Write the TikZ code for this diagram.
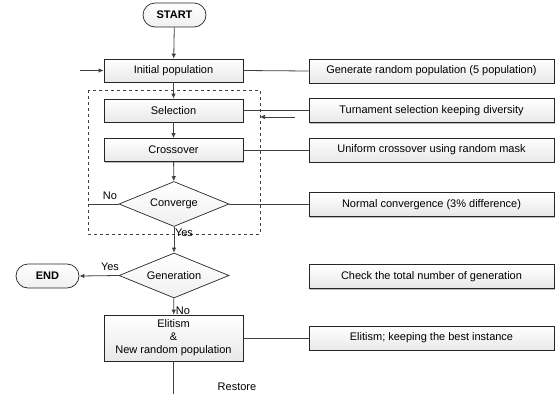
\documentclass[tikz,border=0pt]{standalone}
\usepackage{fontspec}
\setmainfont{Liberation Sans}
\usetikzlibrary{shapes.geometric,shapes.misc,shadows,arrows.meta}
\begin{document}
\begin{tikzpicture}[x=1pt,y=-1pt,
  font=\fontsize{11}{13}\selectfont,
  conn/.style={draw=black!75, line width=0.8pt},
  arr/.style={conn, -{Latex[length=5pt,width=4.5pt]}},
  procbox/.style={draw=black!85, line width=0.7pt, rectangle, minimum width=139pt, minimum height=23pt, inner sep=1pt,
    top color=white, bottom color=gray!18,
    drop shadow={shadow xshift=1.2pt, shadow yshift=-1.2pt, fill=gray!55, opacity=1}},
  notebox/.style={procbox, minimum width=245pt, minimum height=24pt},
  termbox/.style={draw=black!85, line width=0.7pt, rounded rectangle, minimum width=65pt, minimum height=24pt, inner sep=1pt,
    top color=white, bottom color=gray!12, font=\fontsize{11}{13}\selectfont\bfseries},
  decbox/.style={draw=black!85, line width=0.7pt, diamond, aspect=2.4, minimum width=110pt, minimum height=45pt, inner sep=0pt,
    top color=white, bottom color=gray!12},
  lbl/.style={inner sep=0pt}
]
\useasboundingbox (0,0) rectangle (560,394);

% main flow
\node[termbox] (start) at (174.5,15) {START};
\node[procbox] (init) at (173.5,70.5) {Initial population};
\node[procbox] (sel) at (173.5,110.5) {Selection};
\node[procbox] (cross) at (173.5,150) {Crossover};
\node[decbox] (conv) at (174,204) {Converge};
\node[decbox] (gen) at (174,275.5) {Generation};
\node[termbox] (end) at (47.5,276) {END};
\node[procbox, minimum height=46pt, align=center, font=\fontsize{11}{13}\selectfont] (eli) at (173.5,338) {Elitism\\\&\\New random population};

% dashed group
\draw[black!75, dashed, line width=0.7pt] (88,90) rectangle (260,234);

% right notes
\node[notebox] (gr) at (431.5,71) {Generate random population (5 population)};
\node[notebox] (tur) at (431.5,110.5) {Turnament selection keeping diversity};
\node[notebox] (uni) at (431.5,150) {Uniform crossover using random mask};
\node[notebox] (norm) at (431.5,204.5) {Normal convergence (3\% difference)};
\node[notebox] (chk) at (431.5,276.5) {Check the total number of generation};
\node[notebox] (elk) at (431.5,338) {Elitism; keeping the best instance};

% coordinates for free ends
\coordinate (inL) at (80,70.5);
\coordinate (noL) at (88,204);
\coordinate (ret1) at (295,117);
\coordinate (ret2) at (260,117);
\coordinate (bot) at (173.5,394);

% connectors
\draw[arr] (start) -- (init);
\draw[arr] (inL) -- (init.west);
\draw[arr] (init) -- (sel);
\draw[arr] (sel) -- (cross);
\draw[arr] (cross) -- (conv);
\draw[arr] (conv) -- (gen);
\draw[arr] (gen.west) -- (end.east);
\draw[arr] (gen) -- (eli);
\draw[conn] (conv.west) -- (noL);
\draw[conn] (eli) -- (bot);
\draw[arr, line width=0.6pt] (ret1) -- (ret2);

\draw[conn] (init.east) -- (gr.west);
\draw[conn] (sel.east) -- (tur.west);
\draw[conn] (cross.east) -- (uni.west);
\draw[conn] (conv.east) -- (conv.east -| norm.west);
\draw[conn] (eli.east) -- (elk.west);

% labels
\node[lbl] (lno1) at (110,196) {No};
\node[lbl] (lyes1) at (184,233) {Yes};
\node[lbl] (lyes2) at (110,267) {Yes};
\node[lbl] (lno2) at (183,311) {No};
\node[lbl] (lres) at (237,387) {Restore};
\end{tikzpicture}
\end{document}
